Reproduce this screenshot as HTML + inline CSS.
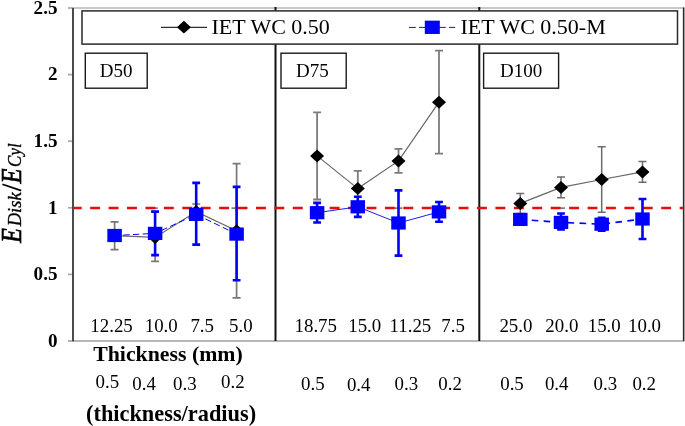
<!DOCTYPE html>
<html><head><meta charset="utf-8"><style>
html,body{margin:0;padding:0;background:#fff;}
body{width:685px;height:426px;overflow:hidden;}
svg{display:block;font-family:"Liberation Serif",serif;will-change:transform;}
text{fill:#000;}
</style></head><body>
<svg width="685" height="426" viewBox="0 0 685 426">
<rect x="73" y="8" width="611.6" height="332.95" fill="none" stroke="#b8b8b8" stroke-width="1.5"/>
<line x1="68" y1="341.00" x2="73" y2="341.00" stroke="#a8a8a8" stroke-width="1.7"/>
<line x1="68" y1="274.40" x2="73" y2="274.40" stroke="#a8a8a8" stroke-width="1.7"/>
<line x1="68" y1="207.80" x2="73" y2="207.80" stroke="#a8a8a8" stroke-width="1.7"/>
<line x1="68" y1="141.20" x2="73" y2="141.20" stroke="#a8a8a8" stroke-width="1.7"/>
<line x1="68" y1="74.60" x2="73" y2="74.60" stroke="#a8a8a8" stroke-width="1.7"/>
<line x1="68" y1="8.00" x2="73" y2="8.00" stroke="#a8a8a8" stroke-width="1.7"/>
<line x1="68" y1="340.95" x2="684" y2="340.95" stroke="#b0b0b0" stroke-width="1.6"/>
<line x1="73" y1="8" x2="73" y2="341.2" stroke="#363636" stroke-width="1.7"/>
<line x1="275.5" y1="7" x2="275.5" y2="341" stroke="#111" stroke-width="2"/>
<line x1="479.3" y1="7" x2="479.3" y2="341" stroke="#111" stroke-width="2"/>
<line x1="683.5" y1="7.5" x2="683.5" y2="341" stroke="#2a2a2a" stroke-width="1.3"/>
<line x1="149.8" y1="208.1" x2="157.8" y2="208.1" stroke="#555" stroke-width="1.3"/>
<line x1="231.5" y1="208.1" x2="239.5" y2="208.1" stroke="#555" stroke-width="1.3"/>
<line x1="394.4" y1="208.1" x2="402.4" y2="208.1" stroke="#555" stroke-width="1.3"/>
<line x1="557.0" y1="208.1" x2="565.0" y2="208.1" stroke="#555" stroke-width="1.3"/>
<line x1="73.8" y1="208" x2="683" y2="208" stroke="#ec0a0a" stroke-width="2.4" stroke-dasharray="9.9 8.52" stroke-dashoffset="2.02"/>
<path d="M114.60 221.85V249.55M110.60 221.85H118.60M110.60 249.55H118.60" stroke="#777" stroke-width="1.7" fill="none"/>
<path d="M155.10 211.50V261.30M151.10 211.50H159.10M151.10 261.30H159.10" stroke="#777" stroke-width="1.7" fill="none"/>
<path d="M196.20 204.00V218.80M192.20 204.00H200.20M192.20 218.80H200.20" stroke="#777" stroke-width="1.7" fill="none"/>
<path d="M236.60 163.70V297.90M232.60 163.70H240.60M232.60 297.90H240.60" stroke="#777" stroke-width="1.7" fill="none"/>
<polyline points="114.60,235.70 155.10,237.40 196.20,211.60 236.60,230.80" fill="none" stroke="#666" stroke-width="1.2"/>
<path d="M317.10 112.30V199.50M313.10 112.30H321.10M313.10 199.50H321.10" stroke="#7c7c7c" stroke-width="1.8" fill="none"/>
<path d="M357.80 170.90V206.30M353.80 170.90H361.80M353.80 206.30H361.80" stroke="#7c7c7c" stroke-width="1.8" fill="none"/>
<path d="M398.50 148.90V172.90M394.50 148.90H402.50M394.50 172.90H402.50" stroke="#7c7c7c" stroke-width="1.8" fill="none"/>
<path d="M439.00 50.70V153.70M435.00 50.70H443.00M435.00 153.70H443.00" stroke="#7c7c7c" stroke-width="1.8" fill="none"/>
<polyline points="317.10,155.90 357.80,188.60 398.50,160.90 439.00,102.20" fill="none" stroke="#666" stroke-width="1.2"/>
<path d="M520.30 193.40V213.40M516.30 193.40H524.30M516.30 213.40H524.30" stroke="#6c6c6c" stroke-width="1.5" fill="none"/>
<path d="M561.00 176.95V197.85M557.00 176.95H565.00M557.00 197.85H565.00" stroke="#6c6c6c" stroke-width="1.5" fill="none"/>
<path d="M601.70 146.70V212.30M597.70 146.70H605.70M597.70 212.30H605.70" stroke="#6c6c6c" stroke-width="1.5" fill="none"/>
<path d="M642.50 161.60V182.20M638.50 161.60H646.50M638.50 182.20H646.50" stroke="#6c6c6c" stroke-width="1.5" fill="none"/>
<polyline points="520.30,203.40 561.00,187.40 601.70,179.50 642.50,171.90" fill="none" stroke="#666" stroke-width="1.2"/>
<path d="M155.10 211.65V255.15M151.20 211.65H159.00M151.20 255.15H159.00" stroke="#0000ff" stroke-width="2.6" fill="none"/>
<path d="M196.20 182.90V244.60M192.30 182.90H200.10M192.30 244.60H200.10" stroke="#0000ff" stroke-width="2.6" fill="none"/>
<path d="M236.60 186.90V280.30M232.70 186.90H240.50M232.70 280.30H240.50" stroke="#0000ff" stroke-width="2.6" fill="none"/>
<polyline points="114.60,235.50 155.10,233.40 196.20,214.40 236.60,234.10" fill="none" stroke="#0000ff" stroke-width="1.0" stroke-dasharray="6.3 3.4" stroke-dashoffset="1"/>
<path d="M317.10 202.90V222.50M313.20 202.90H321.00M313.20 222.50H321.00" stroke="#0000ff" stroke-width="2.6" fill="none"/>
<path d="M357.80 196.70V216.90M353.90 196.70H361.70M353.90 216.90H361.70" stroke="#0000ff" stroke-width="2.6" fill="none"/>
<path d="M398.50 190.35V255.65M394.60 190.35H402.40M394.60 255.65H402.40" stroke="#0000ff" stroke-width="2.6" fill="none"/>
<path d="M439.00 202.05V221.75M435.10 202.05H442.90M435.10 221.75H442.90" stroke="#0000ff" stroke-width="2.6" fill="none"/>
<polyline points="317.10,212.70 357.80,206.80 398.50,223.00 439.00,211.90" fill="none" stroke="#0000ff" stroke-width="0.9"/>
<path d="M561.00 213.50V229.50M557.10 213.50H564.90M557.10 229.50H564.90" stroke="#0000ff" stroke-width="2.6" fill="none"/>
<path d="M601.70 217.70V230.70M597.80 217.70H605.60M597.80 230.70H605.60" stroke="#0000ff" stroke-width="2.6" fill="none"/>
<path d="M642.50 199.00V239.00M638.60 199.00H646.40M638.60 239.00H646.40" stroke="#0000ff" stroke-width="2.6" fill="none"/>
<polyline points="520.30,219.40 561.00,222.40 601.70,224.20 642.50,219.00" fill="none" stroke="#0000ff" stroke-width="1.7" stroke-dasharray="6.6 5.4" stroke-dashoffset="0.6"/>
<path d="M107.60 235.70L114.60 229.20L121.60 235.70L114.60 242.20Z" fill="#000"/>
<path d="M148.10 237.40L155.10 230.90L162.10 237.40L155.10 243.90Z" fill="#000"/>
<path d="M189.20 211.60L196.20 205.10L203.20 211.60L196.20 218.10Z" fill="#000"/>
<path d="M229.60 230.80L236.60 224.30L243.60 230.80L236.60 237.30Z" fill="#000"/>
<path d="M310.10 155.90L317.10 149.40L324.10 155.90L317.10 162.40Z" fill="#000"/>
<path d="M350.80 188.60L357.80 182.10L364.80 188.60L357.80 195.10Z" fill="#000"/>
<path d="M391.50 160.90L398.50 154.40L405.50 160.90L398.50 167.40Z" fill="#000"/>
<path d="M432.00 102.20L439.00 95.70L446.00 102.20L439.00 108.70Z" fill="#000"/>
<path d="M513.30 203.40L520.30 196.90L527.30 203.40L520.30 209.90Z" fill="#000"/>
<path d="M554.00 187.40L561.00 180.90L568.00 187.40L561.00 193.90Z" fill="#000"/>
<path d="M594.70 179.50L601.70 173.00L608.70 179.50L601.70 186.00Z" fill="#000"/>
<path d="M635.50 171.90L642.50 165.40L649.50 171.90L642.50 178.40Z" fill="#000"/>
<rect x="107.35" y="228.90" width="14.5" height="13.2" fill="#0000ff"/>
<rect x="147.85" y="226.80" width="14.5" height="13.2" fill="#0000ff"/>
<rect x="188.95" y="207.80" width="14.5" height="13.2" fill="#0000ff"/>
<rect x="229.35" y="227.50" width="14.5" height="13.2" fill="#0000ff"/>
<rect x="309.85" y="206.10" width="14.5" height="13.2" fill="#0000ff"/>
<rect x="350.55" y="200.20" width="14.5" height="13.2" fill="#0000ff"/>
<rect x="391.25" y="216.40" width="14.5" height="13.2" fill="#0000ff"/>
<rect x="431.75" y="205.30" width="14.5" height="13.2" fill="#0000ff"/>
<rect x="513.05" y="212.80" width="14.5" height="13.2" fill="#0000ff"/>
<rect x="553.75" y="215.80" width="14.5" height="13.2" fill="#0000ff"/>
<rect x="594.45" y="217.60" width="14.5" height="13.2" fill="#0000ff"/>
<rect x="635.25" y="212.40" width="14.5" height="13.2" fill="#0000ff"/>
<rect x="85.3" y="53.2" width="61.9" height="35" fill="#fff" stroke="#1a1a1a" stroke-width="1.4"/>
<text transform="translate(116.1,77.1) scale(1.04,1)" font-size="18.3" text-anchor="middle">D50</text>
<rect x="281" y="53.2" width="65.2" height="35" fill="#fff" stroke="#1a1a1a" stroke-width="1.4"/>
<text transform="translate(312.3,77.1) scale(1.04,1)" font-size="18.3" text-anchor="middle">D75</text>
<rect x="483.6" y="53.2" width="75.0" height="35" fill="#fff" stroke="#1a1a1a" stroke-width="1.4"/>
<text transform="translate(521.1,77.1) scale(1.04,1)" font-size="18.3" text-anchor="middle">D100</text>
<rect x="82" y="10.9" width="595.5" height="33.2" fill="#fff" stroke="#2a2a2a" stroke-width="1.5"/>
<line x1="161" y1="27.4" x2="207" y2="27.4" stroke="#303030" stroke-width="1.2"/>
<path d="M176.90 27.20L183.90 20.80L190.90 27.20L183.90 33.60Z" fill="#000"/>
<text x="211.5" y="34" font-size="22">IET WC 0.50</text>
<line x1="409" y1="27.4" x2="455.2" y2="27.4" stroke="#0000ff" stroke-width="0.95" stroke-dasharray="6.8 3.2"/>
<rect x="424.80" y="20.65" width="15" height="13.3" fill="#0000ff"/>
<text x="460.5" y="34" font-size="22">IET WC 0.50-M</text>
<text transform="translate(57.5,346.80) scale(1.07,1)" font-size="17.9" font-weight="bold" text-anchor="end">0</text>
<text transform="translate(57.5,280.20) scale(1.07,1)" font-size="17.9" font-weight="bold" text-anchor="end">0.5</text>
<text transform="translate(57.5,213.60) scale(1.07,1)" font-size="17.9" font-weight="bold" text-anchor="end">1</text>
<text transform="translate(57.5,147.00) scale(1.07,1)" font-size="17.9" font-weight="bold" text-anchor="end">1.5</text>
<text transform="translate(57.5,80.40) scale(1.07,1)" font-size="17.9" font-weight="bold" text-anchor="end">2</text>
<text transform="translate(57.5,13.80) scale(1.07,1)" font-size="17.9" font-weight="bold" text-anchor="end">2.5</text>
<text transform="translate(90.3,332) scale(1.05,1)" font-size="18">12.25</text>
<text transform="translate(144.7,332) scale(1.05,1)" font-size="18">10.0</text>
<text transform="translate(190.4,332) scale(1.05,1)" font-size="18">7.5</text>
<text transform="translate(229.1,332) scale(1.05,1)" font-size="18">5.0</text>
<text transform="translate(294.5,332) scale(1.05,1)" font-size="18">18.75</text>
<text transform="translate(348.2,332) scale(1.05,1)" font-size="18">15.0</text>
<text transform="translate(389.5,332) scale(1.05,1)" font-size="18">11.25</text>
<text transform="translate(441.3,332) scale(1.05,1)" font-size="18">7.5</text>
<text transform="translate(499.4,332) scale(1.05,1)" font-size="18">25.0</text>
<text transform="translate(545.3,332) scale(1.05,1)" font-size="18">20.0</text>
<text transform="translate(587.7,332) scale(1.05,1)" font-size="18">15.0</text>
<text transform="translate(628,332) scale(1.05,1)" font-size="18">10.0</text>
<text x="93.2" y="361.2" font-size="21.8" font-weight="bold">Thickness (mm)</text>
<text transform="translate(95.5,387.7) scale(1.05,1)" font-size="18">0.5</text>
<text transform="translate(132.3,389.7) scale(1.05,1)" font-size="18">0.4</text>
<text transform="translate(173.1,389.9) scale(1.05,1)" font-size="18">0.3</text>
<text transform="translate(221,387.8) scale(1.05,1)" font-size="18">0.2</text>
<text transform="translate(301.1,389.8) scale(1.05,1)" font-size="18">0.5</text>
<text transform="translate(346.9,390.6) scale(1.05,1)" font-size="18">0.4</text>
<text transform="translate(394.5,389.8) scale(1.05,1)" font-size="18">0.3</text>
<text transform="translate(438.3,389.8) scale(1.05,1)" font-size="18">0.2</text>
<text transform="translate(500.2,389.8) scale(1.05,1)" font-size="18">0.5</text>
<text transform="translate(544.9,389.8) scale(1.05,1)" font-size="18">0.4</text>
<text transform="translate(593.6,389.8) scale(1.05,1)" font-size="18">0.3</text>
<text transform="translate(632.4,389.8) scale(1.05,1)" font-size="18">0.2</text>
<text x="86" y="421" font-size="22.35" font-weight="bold">(thickness/radius)</text>
<g transform="translate(21.3,245) rotate(-90)" font-style="italic"><text transform="translate(2.3,0) scale(0.82,1)" font-size="29" stroke="#000" stroke-width="0.7">E</text><text transform="translate(18.7,0) scale(0.95,1)" font-size="19.5" stroke="#000" stroke-width="0.35">Disk</text><text transform="translate(61.6,0) scale(0.845,1)" font-size="29" stroke="#000" stroke-width="0.7">E</text><text transform="translate(78.1,0) scale(0.87,1)" font-size="19.5" stroke="#000" stroke-width="0.35">Cyl</text></g>
<line x1="21.2" y1="190.6" x2="2.4" y2="184.2" stroke="#000" stroke-width="1.7"/>
</svg>
</body></html>
